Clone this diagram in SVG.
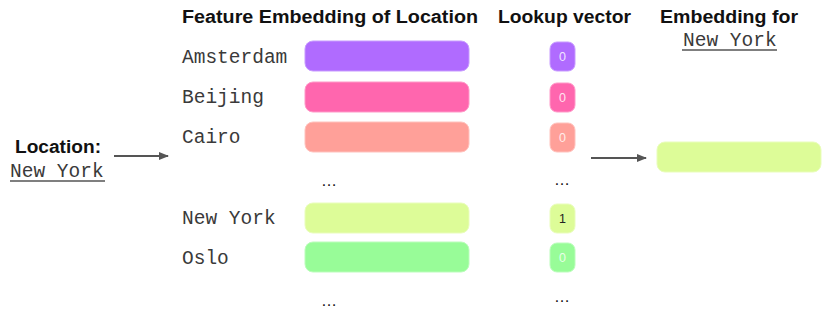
<svg xmlns="http://www.w3.org/2000/svg" width="831" height="309" viewBox="0 0 831 309">
<defs>
<style>
.h{font-family:"Liberation Sans",Arial,sans-serif;font-weight:bold;font-size:18px;fill:#111}
.m{font-family:"Liberation Mono","Courier New",monospace;font-size:19.5px;fill:#3a3a3a}
.n{font-family:"Liberation Sans",Arial,sans-serif;font-size:12.5px;text-anchor:middle}
.dots{font-family:"Liberation Sans",Arial,sans-serif;font-size:16px;fill:#111}
.ul{stroke:#555;stroke-width:1.5}
</style>
<marker id="ah" markerWidth="10" markerHeight="10" refX="9" refY="5" orient="auto" markerUnits="userSpaceOnUse">
<path d="M0,1 L10,5 L0,9 Z" fill="#555"/>
</marker>
</defs>
<rect width="831" height="309" fill="#fff"/>
<g id="headers">
<text class="h" x="182" y="23" textLength="296" lengthAdjust="spacingAndGlyphs">Feature Embedding of Location</text>
<text class="h" x="498" y="23" textLength="133" lengthAdjust="spacingAndGlyphs">Lookup vector</text>
<text class="h" x="660" y="23" textLength="138" lengthAdjust="spacingAndGlyphs">Embedding for</text>
<text class="m" x="683" y="46">New York</text>
<line class="ul" x1="682" y1="50" x2="777" y2="50"/>
</g>
<g id="input">
<text class="h" x="15" y="153" textLength="86" lengthAdjust="spacingAndGlyphs">Location:</text>
<text class="m" x="10" y="177">New York</text>
<line class="ul" x1="10" y1="181" x2="105" y2="181"/>
</g>
<g id="row-amsterdam">
<text class="m" x="182" y="63">Amsterdam</text>
<rect x="305" y="41" width="164" height="30" rx="8" fill="#B06BFF" stroke="#C79BFF"/>
<rect x="550" y="42" width="25" height="29" rx="7" fill="#B06BFF" stroke="#C79BFF"/>
<text class="n" x="562.5" y="61" fill="#F0E4FF">0</text>
</g>
<g id="row-beijing">
<text class="m" x="182" y="103">Beijing</text>
<rect x="305" y="82" width="164" height="30" rx="8" fill="#FF66AE" stroke="#FF99C8"/>
<rect x="550" y="83" width="25" height="29" rx="7" fill="#FF66AE" stroke="#FF99C8"/>
<text class="n" x="562.5" y="102" fill="#FFE4F0">0</text>
</g>
<g id="row-cairo">
<text class="m" x="182" y="143">Cairo</text>
<rect x="305" y="122" width="164" height="30" rx="8" fill="#FFA099" stroke="#FFC2BD"/>
<rect x="550" y="123" width="25" height="29" rx="7" fill="#FFA099" stroke="#FFC2BD"/>
<text class="n" x="562.5" y="142" fill="#FFECEA">0</text>
</g>
<g id="dots-1">
<text class="dots" x="321" y="186">…</text>
<text class="dots" x="554" y="185">…</text>
</g>
<g id="row-newyork">
<text class="m" x="182" y="224">New York</text>
<rect x="305" y="203" width="164" height="30" rx="8" fill="#DDFC98" stroke="#E9FDBB"/>
<rect x="550" y="204" width="25" height="29" rx="7" fill="#DDFC98" stroke="#E9FDBB"/>
<text class="n" x="562.5" y="223" fill="#222">1</text>
</g>
<g id="row-oslo">
<text class="m" x="182" y="264">Oslo</text>
<rect x="305" y="242" width="164" height="30" rx="8" fill="#98FC98" stroke="#BBFDBB"/>
<rect x="550" y="243" width="25" height="29" rx="7" fill="#98FC98" stroke="#BBFDBB"/>
<text class="n" x="562.5" y="262" fill="#E8FFE8">0</text>
</g>
<g id="dots-2">
<text class="dots" x="321" y="306">…</text>
<text class="dots" x="554" y="302">…</text>
</g>
<g id="output">
<rect x="657" y="142" width="164" height="30" rx="8" fill="#DDFC98" stroke="#E9FDBB"/>
</g>
<g id="connectors">
<line x1="114" y1="156" x2="168" y2="156" stroke="#555" stroke-width="2" marker-end="url(#ah)"/>
<line x1="591" y1="158" x2="646" y2="158" stroke="#555" stroke-width="2" marker-end="url(#ah)"/>
</g>
</svg>
